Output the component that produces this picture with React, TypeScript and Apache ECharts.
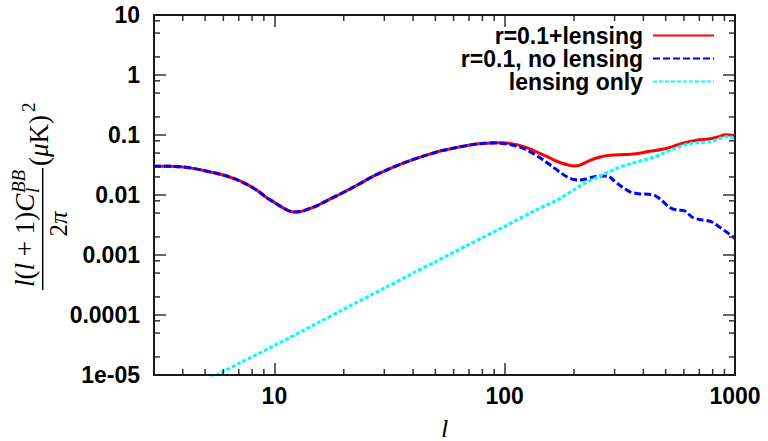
import React, { useEffect, useRef } from 'react';
import * as echarts from 'echarts';

const X_MIN = 3;
const X_MAX = 1000;
const Y_MIN = 1e-5;
const Y_MAX = 10;

const yTickLabels = ['1e-05', '0.0001', '0.001', '0.01', '0.1', '1', '10'];
const xMinorTicks = [4, 5, 6, 7, 8, 9, 20, 30, 40, 50, 60, 70, 80, 90, 200, 300, 400, 500, 600, 700, 800, 900];
const yMinorTicks = [2e-5, 5e-5, 8e-5, 2e-4, 5e-4, 8e-4, 2e-3, 5e-3, 8e-3, 0.02, 0.05, 0.08, 0.2, 0.5, 0.8, 2, 5, 8];

const seriesNames = ['r=0.1+lensing', 'r=0.1, no lensing', 'lensing only'];

// r=0.1 + lensing
const redL = [3, 3.5, 4, 4.5, 5, 5.6, 6.2, 7, 7.6, 8.4, 9.2, 10, 10.9, 11.5, 12.2, 13, 13.8, 15, 16.2, 18, 20, 23, 26.8, 31, 37, 44, 52, 62, 73, 82, 89, 95, 102, 110, 118, 127, 137, 149, 162, 175, 188, 200, 212, 225, 242, 260, 280, 300, 320, 352, 390, 420, 450, 483, 520, 560, 600, 650, 700, 787, 860, 907, 950, 1000];
const redV = [0.03, 0.03, 0.0293, 0.0275, 0.0253, 0.023, 0.0207, 0.0175, 0.015, 0.012, 0.0092, 0.0075, 0.0061, 0.0055, 0.0052, 0.0053, 0.0057, 0.0064, 0.0074, 0.0091, 0.0111, 0.0148, 0.0205, 0.0265, 0.035, 0.044, 0.0535, 0.062, 0.0695, 0.073, 0.074, 0.0745, 0.0735, 0.0705, 0.066, 0.06, 0.053, 0.0455, 0.039, 0.0345, 0.0318, 0.0305, 0.0315, 0.035, 0.0395, 0.043, 0.0455, 0.0465, 0.047, 0.0478, 0.05, 0.053, 0.055, 0.0578, 0.062, 0.068, 0.074, 0.079, 0.083, 0.0868, 0.095, 0.101, 0.1, 0.0966];

// r=0.1, no lensing
const blueL = [3, 3.5, 4, 4.5, 5, 5.6, 6.2, 7, 7.6, 8.4, 9.2, 10, 10.9, 11.5, 12.2, 13, 13.8, 15, 16.2, 18, 20, 23, 26.8, 31, 37, 44, 52, 62, 73, 82, 89, 95, 102, 110, 118, 127, 137, 149, 162, 175, 188, 200, 212, 225, 242, 260, 280, 300, 320, 352, 390, 420, 450, 483, 520, 560, 600, 650, 700, 787, 860, 907, 950, 1000];
const blueV = [0.03, 0.03, 0.0293, 0.0275, 0.0253, 0.023, 0.0207, 0.0175, 0.015, 0.012, 0.0092, 0.0075, 0.0061, 0.0055, 0.0052, 0.0053, 0.0057, 0.0064, 0.0074, 0.0091, 0.0111, 0.0148, 0.0205, 0.0265, 0.035, 0.044, 0.0535, 0.062, 0.0695, 0.0728, 0.0736, 0.073, 0.0705, 0.0665, 0.0615, 0.0545, 0.0459, 0.037, 0.0293, 0.0235, 0.0197, 0.0181, 0.0177, 0.0185, 0.0199, 0.0208, 0.0207, 0.017, 0.014, 0.0112, 0.0104, 0.0103, 0.0098, 0.008, 0.0062, 0.0056, 0.0055, 0.0043, 0.0039, 0.0036, 0.0029, 0.0025, 0.0022, 0.00188];

// lensing only
const cyanL = [5, 7, 10, 15, 20, 30, 40, 50, 70, 100, 130, 171, 200, 217, 250, 278, 315, 352, 400, 447, 483, 550, 620, 700, 787, 860, 924, 970, 1000];
const cyanV = [8.0e-6, 1.55e-5, 3.1e-5, 7.0e-5, 1.25e-4, 2.8e-4, 5.0e-4, 7.7e-4, 1.5e-3, 3.0e-3, 5.1e-3, 8.5e-3, 0.0122, 0.0149, 0.0195, 0.0236, 0.029, 0.0333, 0.038, 0.043, 0.049, 0.06, 0.07, 0.0745, 0.0775, 0.088, 0.0935, 0.092, 0.087];

const SANS = "'Liberation Sans', Arial, sans-serif";
const SERIF = "'Liberation Serif', 'DejaVu Serif', serif";
const FRAME_COLOR = '#222';
const TICK_COLOR = '#333';

const pairs = (xs: number[], ys: number[]) => xs.map((x, i) => [x, ys[i]]);

const mkTick = () => ({ show: true, inside: true, length: 12, lineStyle: { color: TICK_COLOR, width: 1.5 } });
const mkLine = () => ({ show: true, onZero: false, lineStyle: { color: FRAME_COLOR, width: 2 } });

export default function App() {
  const ref = useRef<HTMLDivElement>(null);
  useEffect(() => {
    document.body.style.margin = '0';
    if (!ref.current) return;
    const chart = echarts.init(ref.current, undefined, { renderer: 'svg' });

    const yLabelFmt = (v: number) => {
      const lg = Math.log10(v);
      const e = Math.round(lg);
      if (Math.abs(lg - e) > 1e-6) return '';
      return yTickLabels[e + 5] ?? '';
    };
    const xLabelFmt = (v: number) => {
      const lg = Math.log10(v);
      const e = Math.round(lg);
      if (Math.abs(lg - e) > 1e-6) return '';
      return String(Math.round(Math.pow(10, e)));
    };

    const labelFont = { color: '#000', fontFamily: SANS, fontWeight: 'bold', fontSize: 23 };

    const formula = {
      type: 'group', x: 42.7, y: 195, rotation: Math.PI / 2, silent: true,
      children: [
        {
          type: 'text', x: -92, y: -18,
          style: {
            text: '{i|l}{n|(}{i|l}{n| + 1)}{i|C}',
            rich: {
              i: { fontFamily: SERIF, fontStyle: 'italic', fontSize: 27, fill: '#000' },
              n: { fontFamily: SERIF, fontSize: 27, fill: '#000' },
            },
            align: 'left', verticalAlign: 'middle', textAlign: 'left', textVerticalAlign: 'middle',
          },
        },
        {
          type: 'text', x: 2, y: -24,
          style: { text: 'BB', fontFamily: SERIF, fontStyle: 'italic', fontSize: 19, fill: '#000', align: 'left', verticalAlign: 'middle', textAlign: 'left', textVerticalAlign: 'middle' },
        },
        {
          type: 'text', x: 2, y: -10,
          style: { text: 'l', fontFamily: SERIF, fontStyle: 'italic', fontSize: 19, fill: '#000', align: 'left', verticalAlign: 'middle', textAlign: 'left', textVerticalAlign: 'middle' },
        },
        { type: 'line', shape: { x1: -95, y1: 0, x2: 27, y2: 0 }, style: { stroke: '#000', lineWidth: 1.5 } },
        {
          type: 'text', x: -29, y: 16,
          style: {
            text: '{n|2}{i|π}',
            rich: {
              i: { fontFamily: SERIF, fontStyle: 'italic', fontSize: 25, fill: '#000' },
              n: { fontFamily: SERIF, fontSize: 25, fill: '#000' },
            },
            align: 'center', verticalAlign: 'middle', textAlign: 'center', textVerticalAlign: 'middle',
          },
        },
        {
          type: 'text', x: 29, y: -3.5,
          style: {
            text: '{n|(}{i|μ}{n|K)}',
            rich: {
              i: { fontFamily: SERIF, fontStyle: 'italic', fontSize: 27, fill: '#000' },
              n: { fontFamily: SERIF, fontSize: 27, fill: '#000' },
            },
            align: 'left', verticalAlign: 'middle', textAlign: 'left', textVerticalAlign: 'middle',
          },
        },
        {
          type: 'text', x: 83, y: -14,
          style: { text: '2', fontFamily: SERIF, fontSize: 19, fill: '#000', align: 'left', verticalAlign: 'middle', textAlign: 'left', textVerticalAlign: 'middle' },
        },
      ],
    };

    const option: any = {
      animation: false,
      backgroundColor: '#fff',
      grid: { left: 154, top: 15, width: 581, height: 360, show: false, outerBoundsMode: 'none', containLabel: false },
      xAxis: [
        {
          type: 'log', logBase: 10, min: X_MIN, max: X_MAX, position: 'bottom',
          axisLine: mkLine(), axisTick: mkTick(), splitLine: { show: false },
          axisLabel: { formatter: xLabelFmt, margin: 9, ...labelFont, showMinLabel: false },
          name: 'l', nameLocation: 'middle', nameGap: 40,
          nameTextStyle: { fontFamily: SERIF, fontStyle: 'italic', fontSize: 26, color: '#000' },
        },
        {
          type: 'log', logBase: 10, min: X_MIN, max: X_MAX, position: 'top',
          axisLine: mkLine(), axisTick: mkTick(), splitLine: { show: false },
          axisLabel: { show: false },
        },
      ],
      yAxis: [
        {
          type: 'log', logBase: 10, min: Y_MIN, max: Y_MAX, position: 'left', splitNumber: 6,
          axisLine: mkLine(), axisTick: mkTick(), splitLine: { show: false },
          axisLabel: { formatter: yLabelFmt, margin: 14, ...labelFont },
        },
        {
          type: 'log', logBase: 10, min: Y_MIN, max: Y_MAX, position: 'right', splitNumber: 6,
          axisLine: mkLine(), axisTick: mkTick(), splitLine: { show: false },
          axisLabel: { show: false },
        },
      ],
      legend: {
        orient: 'vertical', right: 48, top: 19, align: 'right',
        itemWidth: 61, itemHeight: 10, itemGap: 0, selectedMode: false,
        itemStyle: { opacity: 0 },
        textStyle: { fontFamily: SANS, fontWeight: 'bold', fontSize: 23, color: '#000', lineHeight: 23, padding: [0, 5, 0, 0] },
        data: seriesNames,
      },
      graphic: [formula],
      series: [
        {
          type: 'custom', silent: true, xAxisIndex: 0, yAxisIndex: 0, z: 6, clip: false,
          data: xMinorTicks.map((v) => [v, Y_MIN]),
          renderItem: (params: any, api: any) => {
            const v = api.value(0);
            const b = api.coord([v, Y_MIN]);
            const t = api.coord([v, Y_MAX]);
            const st = { stroke: TICK_COLOR, lineWidth: 1.5, fill: null };
            return {
              type: 'group',
              children: [
                { type: 'line', shape: { x1: b[0], y1: b[1], x2: b[0], y2: b[1] - 6 }, style: st },
                { type: 'line', shape: { x1: t[0], y1: t[1], x2: t[0], y2: t[1] + 6 }, style: st },
              ],
            };
          },
        },
        {
          type: 'custom', silent: true, xAxisIndex: 0, yAxisIndex: 0, z: 6, clip: false,
          data: yMinorTicks.map((v) => [X_MIN, v]),
          renderItem: (params: any, api: any) => {
            const v = api.value(1);
            const l = api.coord([X_MIN, v]);
            const r = api.coord([X_MAX, v]);
            const st = { stroke: TICK_COLOR, lineWidth: 1.5, fill: null };
            return {
              type: 'group',
              children: [
                { type: 'line', shape: { x1: l[0], y1: l[1], x2: l[0] + 6, y2: l[1] }, style: st },
                { type: 'line', shape: { x1: r[0], y1: r[1], x2: r[0] - 6, y2: r[1] }, style: st },
              ],
            };
          },
        },
        {
          name: seriesNames[0], type: 'line', xAxisIndex: 0, yAxisIndex: 0,
          data: pairs(redL, redV), symbol: 'none', showSymbol: false, smooth: 0.3, clip: true, z: 3,
          lineStyle: { color: '#ff0000', width: 3, type: 'solid' }, itemStyle: { color: '#ff0000' },
        },
        {
          name: seriesNames[1], type: 'line', xAxisIndex: 0, yAxisIndex: 0,
          data: pairs(blueL, blueV), symbol: 'none', showSymbol: false, smooth: 0.3, clip: true, z: 4,
          lineStyle: { color: '#0000ff', width: 3, type: [7, 3] }, itemStyle: { color: '#0000ff' },
        },
        {
          name: seriesNames[2], type: 'line', xAxisIndex: 0, yAxisIndex: 0,
          data: pairs(cyanL, cyanV), symbol: 'none', showSymbol: false, smooth: 0.3, clip: true, z: 5,
          lineStyle: { color: '#00ffff', width: 3, type: [4, 2] }, itemStyle: { color: '#00ffff' },
        },
      ],
    };
    chart.setOption(option);

    // Frame box drawn from the chart's own scale (corners converted from data extents).
    const tl = chart.convertToPixel({ gridIndex: 0 }, [X_MIN, Y_MAX]) as number[];
    const br = chart.convertToPixel({ gridIndex: 0 }, [X_MAX, Y_MIN]) as number[];
    if (tl && br) {
      chart.setOption({
        graphic: [
          formula,
          {
            type: 'rect', z: 50, silent: true,
            shape: { x: tl[0], y: tl[1], width: br[0] - tl[0], height: br[1] - tl[1] },
            style: { fill: 'none', stroke: '#1a1a1a', lineWidth: 2 },
          },
        ],
      });
    }
    return () => chart.dispose();
  }, []);
  return <div ref={ref} style={{ width: 768, height: 441 }} />;
}
